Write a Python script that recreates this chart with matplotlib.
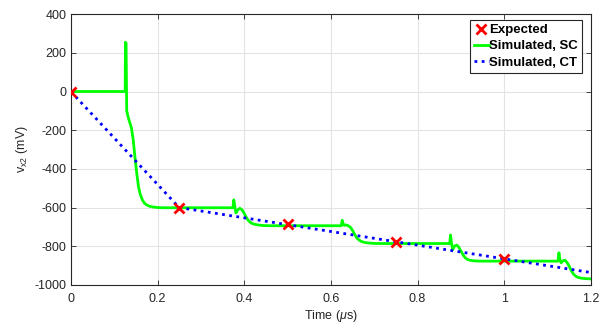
import matplotlib
matplotlib.use("Agg")
import matplotlib.pyplot as plt

plt.rcParams['font.family'] = ['Liberation Sans', 'DejaVu Sans']
plt.rcParams['mathtext.fontset'] = 'custom'
plt.rcParams['mathtext.rm'] = 'Liberation Sans'
plt.rcParams['mathtext.it'] = 'Liberation Sans:italic'
plt.rcParams['axes.unicode_minus'] = False

# Expected points
exp_t = [0.0, 0.25, 0.5, 0.75, 1.0]
exp_v = [0, -600, -686, -777, -866]

# Simulated, CT
ct_t = [0.0, 0.25, 1.2]
ct_v = [0, -600, -936]

# Simulated, SC (hand-read points)
sc_t = [0.0, 0.1255, 0.126, 0.1275, 0.129, 0.132, 0.136, 0.140, 0.144, 0.148, 0.152,
        0.156, 0.160, 0.165, 0.170, 0.176, 0.183, 0.19, 0.2, 0.215, 0.24,
        0.374, 0.376, 0.378, 0.381, 0.385, 0.390, 0.395, 0.400, 0.405, 0.410,
        0.415, 0.420, 0.427, 0.435, 0.445, 0.46, 0.5,
        0.624, 0.626, 0.628, 0.631, 0.635, 0.640, 0.645, 0.650, 0.655, 0.660,
        0.665, 0.670, 0.677, 0.685, 0.695, 0.71, 0.75,
        0.874, 0.876, 0.878, 0.881, 0.885, 0.890, 0.895, 0.900, 0.905, 0.910,
        0.915, 0.920, 0.927, 0.935, 0.945, 0.96, 1.0,
        1.124, 1.126, 1.128, 1.131, 1.135, 1.140, 1.145, 1.150, 1.155, 1.160,
        1.165, 1.170, 1.177, 1.185, 1.192, 1.2]
sc_v = [0, 0, 255, 250, -100, -130, -160, -190, -250, -340, -420,
        -490, -530, -560, -578, -588, -594, -597, -600, -601, -601,
        -601, -560, -590, -628, -612, -604, -612, -630, -652, -668,
        -678, -684, -688, -691, -693, -694, -694,
        -694, -666, -682, -692, -690, -694, -702, -718, -740, -758,
        -768, -775, -780, -783, -785, -786, -786,
        -786, -742, -780, -818, -800, -794, -805, -825, -845, -860,
        -868, -872, -875, -876, -877, -877, -877,
        -877, -834, -865, -886, -876, -872, -885, -905, -928, -945,
        -955, -961, -965, -967, -968, -969]

xticks = [0, 0.2, 0.4, 0.6, 0.8, 1.0, 1.2]
xticklabels = ['0', '0.2', '0.4', '0.6', '0.8', '1', '1.2']
yticks = [-1000, -800, -600, -400, -200, 0, 200, 400]

fig = plt.figure(figsize=(6.0, 3.29), dpi=100)
ax = fig.add_axes([0.118, 0.134, 0.867, 0.823])

ax.plot(sc_t, sc_v, color=(0, 1, 0), lw=2.0, label='Simulated, SC', zorder=3)
ax.plot(ct_t, ct_v, color=(0, 0, 1), lw=2.0, ls=(0, (1, 1.6)), label='Simulated, CT', zorder=4)
ax.plot(exp_t, exp_v, ls='none', marker='x', color='red', ms=7, mew=2.0, label='Expected', zorder=5)

ax.set_xlim(0, 1.2)
ax.set_ylim(-1000, 400)
ax.set_xticks(xticks)
ax.set_xticklabels(xticklabels)
ax.set_yticks(yticks)
ax.grid(True, color='#e3e3e3', lw=0.8)
ax.set_axisbelow(True)
ax.tick_params(direction='in', top=True, right=True, labelsize=9, colors='#262626', length=3.5, width=0.6)
ax.tick_params(axis='x', pad=6)
ax.tick_params(axis='y', pad=3)
for s in ax.spines.values():
    s.set_color('#262626')
    s.set_linewidth(0.8)

ax.set_xlabel(r'Time ($\mu$s)', fontsize=9, color='#262626', labelpad=2)
ax.set_ylabel(r'v$_{\mathrm{x2}}$ (mV)', fontsize=9, color='#262626', labelpad=3)

h, l = ax.get_legend_handles_labels()
order = [2, 0, 1]
leg = ax.legend([h[i] for i in order], [l[i] for i in order], loc='upper right',
                bbox_to_anchor=(0.9825, 0.978), fancybox=False, framealpha=1,
                edgecolor='#262626', prop={'weight': 'bold', 'size': 9.5},
                handlelength=1.1, handletextpad=0.05, borderpad=0.3, labelspacing=0.3,
                borderaxespad=0)
leg.get_frame().set_linewidth(0.8)

fig.savefig('out.png', dpi=100)
